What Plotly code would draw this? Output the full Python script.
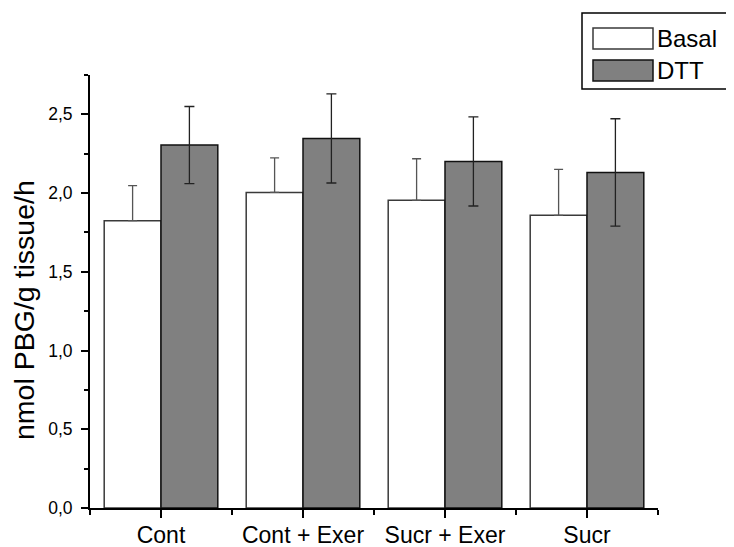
import plotly.graph_objects as go

categories = ["Cont", "Cont + Exer", "Sucr + Exer", "Sucr"]
basal_values = [1.825, 2.004, 1.954, 1.859]
basal_errors = [0.222, 0.220, 0.264, 0.291]
dtt_values = [2.305, 2.347, 2.201, 2.131]
dtt_errors = [0.245, 0.283, 0.283, 0.341]
series_names = ["Basal", "DTT"]
y_tick_values = [0.0, 0.5, 1.0, 1.5, 2.0, 2.5]
y_title = "nmol PBG/g tissue/h"

FONT = "Liberation Sans, Arial, sans-serif"
x_pos = list(range(len(categories)))

# page offset of the plot div (default body margin)
OFF = 8
W, H = 734 - OFF, 547 - OFF
# plot area in page pixels
L, R, T, B = 90, 658, 75, 508
def px(x):
    return (x - L) / (R - L)
def py(y):
    return (B - y) / (B - T)

fig = go.Figure()
fig.add_trace(go.Bar(
    x=x_pos, y=basal_values, name=series_names[0],
    marker=dict(color="white", line=dict(color="#3a3a3a", width=1.5)),
    error_y=dict(type="data", symmetric=False, array=basal_errors,
                 arrayminus=[0] * len(basal_errors),
                 color="#555555", thickness=1.3, width=4.5),
    showlegend=False,
))
fig.add_trace(go.Bar(
    x=x_pos, y=dtt_values, name=series_names[1],
    marker=dict(color="#808080", line=dict(color="#111111", width=1.5)),
    error_y=dict(type="data", symmetric=True, array=dtt_errors,
                 color="#222222", thickness=1.3, width=5),
    showlegend=False,
))

# manual legend (box, swatches, labels)
legend_items = [("white", "#3a3a3a"), ("#808080", "#111111")]
fig.add_shape(type="rect", xref="paper", yref="paper",
              x0=px(582), x1=px(731), y0=py(89), y1=py(13),
              line=dict(color="black", width=1.5), fillcolor="white", layer="above")
for i, (name, (fc, lc)) in enumerate(zip(series_names, legend_items)):
    top = 28 + i * 32
    fig.add_shape(type="rect", xref="paper", yref="paper",
                  x0=px(593), x1=px(653), y0=py(top + 21), y1=py(top),
                  line=dict(color=lc, width=1.5), fillcolor=fc, layer="above")
    fig.add_annotation(xref="paper", yref="paper",
                       x=px(655), y=py(top + 10.5),
                       text=name, showarrow=False, xanchor="left", yanchor="middle",
                       font=dict(family=FONT, size=24, color="black"))

# y-axis title
fig.add_annotation(xref="paper", yref="paper", x=px(24), y=py(310),
                   text=y_title, textangle=-90, showarrow=False,
                   xanchor="center", yanchor="middle",
                   font=dict(family=FONT, size=28.5, color="black"))

fig.update_layout(
    width=W, height=H,
    margin=dict(l=L - OFF, r=734 - R, t=T - OFF, b=547 - B),
    paper_bgcolor="white", plot_bgcolor="white",
    barmode="group", bargap=0.2, bargroupgap=0,
    separators=", ",
    font=dict(family=FONT, color="black"),
)
fig.update_xaxes(
    range=[-0.5, 3.5], tickvals=x_pos, ticktext=categories,
    automargin=False,
    showline=True, linecolor="black", linewidth=2,
    ticks="outside", ticklen=8, tickwidth=1.5, tickcolor="black",
    tickfont=dict(family=FONT, size=23, color="black"),
    ticklabelstandoff=-3,
    minor=dict(tick0=0.5, dtick=1, ticks="outside", ticklen=5, tickwidth=1.5, tickcolor="black"),
    showgrid=False, zeroline=False,
)
fig.update_yaxes(
    range=[0, 2.75], tickvals=y_tick_values, tickformat=".1f",
    automargin=False,
    showline=True, linecolor="black", linewidth=2,
    ticks="outside", ticklen=7, tickwidth=1.5, tickcolor="black",
    tickfont=dict(family=FONT, size=17.5, color="black"),
    ticklabelstandoff=5,
    minor=dict(dtick=0.25, ticks="outside", ticklen=4, tickwidth=1.5, tickcolor="black"),
    showgrid=False, zeroline=False,
)

fig.write_html("out.html")
